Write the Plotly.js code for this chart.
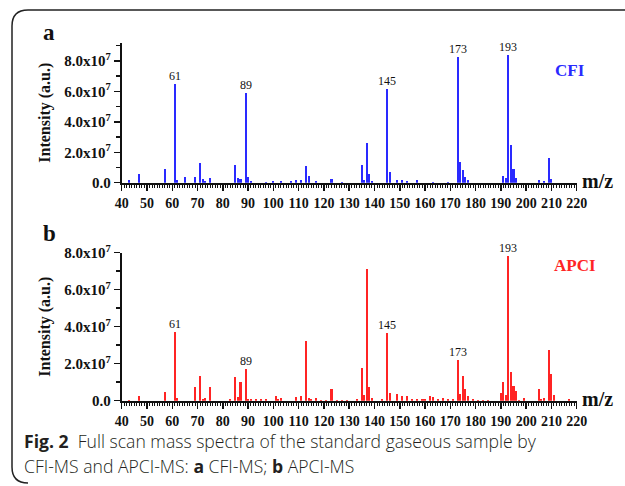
<!DOCTYPE html>
<html>
<head>
<meta charset="utf-8">
<script src="https://cdn.plot.ly/plotly-3.0.1.min.js"></script>
<style>html,body{margin:0;padding:0;background:#fff;}#chart{width:625px;height:486px;}</style>
</head>
<body>
<div id="chart"></div>
<script>
// m/z values and intensities (units of 1e7 a.u.)
const mzCFI = [43,47,57,61,62,65,69,71,72,73,75,85,86,87,89,90,91,97,100,103,107,109,111,113,114,117,123,127,135,136,137,138,139,145,146,149,151,153,157,163,169,173,174,175,176,177,191,192,193,194,195,196,205,207,209,210];
const intCFI = [0.18,0.55,0.9,6.47,0.2,0.35,0.35,1.3,0.25,0.1,0.3,1.18,0.3,0.25,5.88,0.35,0.1,0.06,0.1,0.1,0.08,0.15,0.2,1.12,0.45,0.1,0.25,0.06,1.16,0.2,2.63,0.57,0.1,6.16,0.68,0.15,0.15,0.1,0.15,0.06,0.06,8.25,1.34,0.83,0.35,0.2,0.46,0.3,8.4,2.48,0.88,0.3,0.2,0.08,1.64,0.25];

const mzAPCI = [43,47,57,61,62,69,71,72,73,75,83,85,86,87,89,90,91,93,95,97,101,102,103,109,111,113,114,115,117,119,121,123,125,127,129,133,135,136,137,138,139,143,145,146,149,151,153,155,157,159,160,162,163,165,167,169,171,173,174,175,176,177,179,181,183,185,190,191,192,193,194,195,196,197,199,205,206,207,209,210,211,217];
const intAPCI = [0.05,0.25,0.49,3.73,0.14,0.72,1.33,0.1,0.15,0.72,0.1,1.28,0.2,0.99,1.73,0.1,0.08,0.1,0.07,0.07,0.25,0.1,0.15,0.2,0.27,3.24,0.15,0.1,0.12,0.05,0.05,0.63,0.05,0.05,0.05,0.07,1.78,0.3,7.12,0.76,0.15,0.07,3.68,0.41,0.38,0.25,0.25,0.08,0.07,0.07,0.07,0.25,0.2,0.1,0.15,0.1,0.1,2.22,0.38,1.35,0.61,0.25,0.08,0.05,0.05,0.05,0.43,0.99,0.3,7.84,1.53,0.79,0.54,0.05,0.12,0.61,0.1,0.12,2.72,1.42,0.29,0.07];

const peaksCFI = [61,89,145,173,193];
const peaksAPCI = [61,89,145,173,193];

const xTickVals = [40,50,60,70,80,90,100,110,120,130,140,150,160,170,180,190,200,210,220];
const yTickVals = [0,2,4,6,8];
const yTickText = ['0.0','2.0x10<sup>7</sup>','4.0x10<sup>7</sup>','6.0x10<sup>7</sup>','8.0x10<sup>7</sup>'];

const W = 625, H = 486;
const px = x => x / W;
const py = y => 1 - y / H;

const SERIF = 'Liberation Serif, Times New Roman, serif';
const blue = '#2a2aff';
const red = '#ff2424';

const traces = [
  {type:'bar', x: mzCFI, y: intCFI, xaxis:'x', yaxis:'y', width:0.8,
   marker:{color: blue, line:{width:0}}, hoverinfo:'x+y'},
  {type:'bar', x: mzAPCI, y: intAPCI, xaxis:'x2', yaxis:'y2', width:0.8,
   marker:{color: red, line:{width:0}}, hoverinfo:'x+y'}
];

function xAxis(anchor, domain) {
  return {
    domain: domain, anchor: anchor, range: [40, 220],
    showline: true, linewidth: 2, linecolor: '#111',
    ticks: 'outside', ticklen: 6, tickwidth: 1.5, tickcolor: '#111',
    tickvals: xTickVals, ticktext: xTickVals.map(String),
    tickfont: {family: SERIF, size: 14, color: '#111', weight: 'bold'},
    minor: {dtick: 1, tick0: 40, ticks: 'outside', ticklen: 3, tickwidth: 1, tickcolor: '#111', showgrid: false},
    showgrid: false, zeroline: false, fixedrange: true
  };
}
function yAxis(anchor, domain, top) {
  return {
    domain: domain, anchor: anchor, range: [0, top],
    showline: true, linewidth: 2, linecolor: '#111',
    ticks: 'outside', ticklen: 6, tickwidth: 1.5, tickcolor: '#111',
    tickvals: yTickVals, ticktext: yTickText,
    tickfont: {family: SERIF, size: 15, color: '#111', weight: 'bold'},
    minor: {dtick: 1, tick0: 0, ticks: 'outside', ticklen: 4, tickwidth: 1.5, tickcolor: '#111', showgrid: false},
    showgrid: false, zeroline: false, fixedrange: true
  };
}

const xDom = [px(121.7), px(576.7)];
const yDomTop = [py(182.7), py(42.7)];
const yDomBot = [py(400.7), py(252.7)];

const annotations = [];
function peakLabels(peaks, mz, vals, xr, yr) {
  peaks.forEach(p => {
    const i = mz.indexOf(p);
    annotations.push({xref: xr, yref: yr, x: p, y: vals[i], text: String(p),
      showarrow: false, yanchor: 'bottom', xanchor: 'center', yshift: -1,
      font: {family: SERIF, size: 12, color: '#111'}});
  });
}
peakLabels(peaksCFI, mzCFI, intCFI, 'x', 'y');
peakLabels(peaksAPCI, mzAPCI, intAPCI, 'x2', 'y2');

function txt(x, y, text, font, opts) {
  annotations.push(Object.assign({xref:'paper', yref:'paper', x: px(x), y: py(y), text: text,
    showarrow: false, font: font}, opts || {}));
}
const titleFont = {family: SERIF, size: 16, color: '#111', weight: 'bold'};
txt(45, 112.7, 'Intensity (a.u.)', titleFont, {textangle: -90, xanchor:'center', yanchor:'middle'});
txt(45, 326.7, 'Intensity (a.u.)', titleFont, {textangle: -90, xanchor:'center', yanchor:'middle'});
txt(580, 181, 'm/z', {family: SERIF, size: 20, color: '#111', weight: 'bold'}, {xanchor:'left', yanchor:'middle'});
txt(580, 399, 'm/z', {family: SERIF, size: 20, color: '#111', weight: 'bold'}, {xanchor:'left', yanchor:'middle'});
txt(41, 33, 'a', {family: SERIF, size: 23, color: '#111', weight: 'bold'}, {xanchor:'left', yanchor:'middle'});
txt(41, 234, 'b', {family: SERIF, size: 23, color: '#111', weight: 'bold'}, {xanchor:'left', yanchor:'middle'});
txt(553, 70, 'CFI', {family: SERIF, size: 17, color: blue, weight: 'bold'}, {xanchor:'left', yanchor:'middle'});
txt(552, 265, 'APCI', {family: SERIF, size: 17, color: red, weight: 'bold'}, {xanchor:'left', yanchor:'middle'});

const capFont = {family: 'Open Sans, Noto Sans, sans-serif', size: 17.6, color: '#231f20', weight: 300};
txt(22, 441, '<b>Fig. 2</b>  Full scan mass spectra of the standard gaseous sample by', capFont, {xanchor:'left', yanchor:'middle'});
txt(22, 466, 'CFI-MS and APCI-MS: <b>a</b> CFI-MS; <b>b</b> APCI-MS', capFont, {xanchor:'left', yanchor:'middle'});

// card border
const r = 16;
const path = `M ${px(626)},${py(10)} L ${px(12 + r)},${py(10)} Q ${px(12)},${py(10)} ${px(12)},${py(10 + r)} ` +
             `L ${px(12)},${py(486 - 3 - r)} Q ${px(12)},${py(486 - 3)} ${px(12 + r)},${py(486 - 3)}`;
const shapes = [{type:'path', xref:'paper', yref:'paper', path: path, line:{color:'#222', width:1.5}}];

const layout = {
  width: W, height: H,
  margin: {l:0, r:0, t:0, b:0},
  paper_bgcolor: '#fff', plot_bgcolor: '#fff',
  showlegend: false, bargap: 0,
  xaxis: xAxis('y', xDom),
  yaxis: yAxis('x', yDomTop, 9.2),
  xaxis2: xAxis('y2', xDom),
  yaxis2: yAxis('x2', yDomBot, 8.0),
  annotations: annotations,
  shapes: shapes
};

Plotly.newPlot('chart', traces, layout, {displayModeBar: false, staticPlot: true});
</script>
</body>
</html>
